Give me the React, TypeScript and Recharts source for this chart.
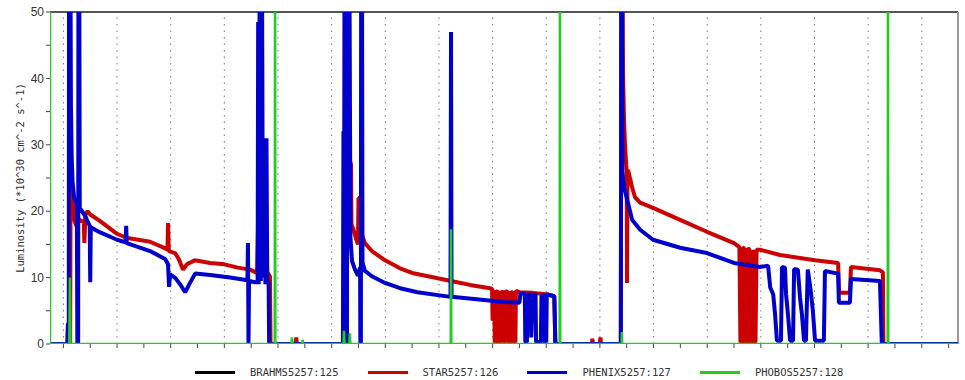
import React from 'react';
import { LineChart, Line, XAxis, YAxis, ReferenceLine } from 'recharts';

// Time axis runs in hours across the store; luminosity in 1e30 cm^-2 s^-1.
// Each pair is [hour, luminosity]. Values above 50 are spikes that run off the top.

const brahms: [number, number][] = [
  [-0.5, 0], [33.35, 0]
];

// STAR (red), three fills
const starFill1: [number, number][] = [
  [-0.5, 0], [0.15, 0], [0.17, 3.2], [0.19, 0], [0.25, 0], [0.27, 27], [0.3, 24], [0.35, 21],
  [0.42, 18.5], [0.48, 17.8], [0.55, 19], [0.62, 18.6], [0.76, 18.4], [0.78, 15.2], [0.82, 19.5],
  [0.9, 20], [1.0, 19.5], [1.37, 18.5], [2.0, 16.6], [2.34, 16.0], [3.23, 15.4], [3.8, 14.4],
  [3.88, 14.2], [3.9, 18.2], [3.93, 14.0], [4.16, 13.7], [4.3, 12.8], [4.46, 11.2], [4.6, 12.0],
  [4.9, 12.6], [5.47, 12.2], [6.0, 12.0], [6.5, 11.5], [6.96, 11.2], [7.22, 10.7], [7.26, 18.4],
  [7.3, 11], [7.4, 11.5], [7.55, 15.6], [7.6, 10.8], [7.7, 10.2], [7.72, 0],
  [8.66, 0], [8.68, 1], [8.7, 0]
];
const starFill2: [number, number][] = [
  [10.56, 0], [10.58, 44], [10.62, 44], [10.66, 28], [10.72, 27], [10.74, 18], [10.8, 17.4],
  [10.9, 16], [10.98, 15], [11.0, 22], [11.06, 22], [11.08, 18], [11.12, 16.5], [11.24, 15.2],
  [11.5, 14], [11.99, 12.6], [12.55, 11.4], [13.0, 10.7], [13.96, 9.9], [14.45, 9.5], [15.16, 8.9],
  [15.9, 8.4], [15.98, 8.3], [16.0, 3.5], [16.02, 7.9], [16.06, 8.1], [16.08, 0.3], [16.12, 0.3],
  [16.14, 7.8], [16.2, 8], [16.22, 0.3], [16.3, 0.3], [16.32, 7.9], [16.4, 7.8], [16.42, 0.3],
  [16.46, 0.3], [16.48, 8], [16.56, 7.8], [16.58, 0.3], [16.66, 0.3], [16.68, 7.9], [16.75, 7.7],
  [16.77, 0.3], [16.85, 0.3], [16.87, 8], [17.0, 7.8], [17.5, 7.7], [18.0, 7.5], [18.3, 7.2],
  [18.34, 0], [19.7, 0], [19.72, 0.8], [19.74, 0], [20.0, 0], [20.02, 1], [20.04, 0]
];
const starFill3: [number, number][] = [
  [20.78, 0], [20.8, 60], [20.84, 60], [20.86, 41], [20.9, 33.7], [20.94, 29.7], [20.98, 27],
  [21.0, 26], [21.01, 9.2], [21.03, 26], [21.05, 26.2], [21.2, 23.6], [21.31, 22.1], [21.5, 21.3],
  [21.98, 20.5], [22.99, 18.7], [23.99, 16.9], [25.0, 15.2], [25.2, 14.6], [25.24, 0.3],
  [25.3, 0.3], [25.32, 14.5], [25.38, 14.4], [25.4, 0.3], [25.5, 0.3], [25.52, 14.4], [25.56, 14.3],
  [25.58, 0.3], [25.68, 0.3], [25.7, 14.2], [25.74, 0.3], [25.8, 0.3], [25.84, 14.2], [25.97, 14.2],
  [26.72, 13.4], [28.02, 12.6], [28.88, 12.2], [28.92, 7.7], [29.32, 7.7], [29.36, 11.6],
  [30.44, 11.1], [30.55, 10.8], [30.57, 0], [33.35, 0]
];

// PHENIX (blue), three fills
const phenixFill1: [number, number][] = [
  [-0.5, 0], [0.15, 0], [0.17, 3], [0.19, 0], [0.2, 0], [0.21, 60], [0.26, 60], [0.28, 36],
  [0.31, 28], [0.34, 24.5], [0.4, 22], [0.5, 21], [0.52, 0], [0.55, 0], [0.56, 60], [0.59, 60],
  [0.61, 20.5], [0.81, 19.3], [0.92, 18.3], [0.98, 17.8], [1.0, 9.3], [1.02, 17.6], [1.18, 17.2],
  [1.37, 16.8], [2.0, 15.7], [2.32, 15.3], [2.34, 17.8], [2.36, 15.2], [3.23, 14.0], [3.79, 12.8],
  [3.9, 12.0], [3.94, 8.6], [3.98, 10.5], [4.16, 10.0], [4.35, 9.0], [4.54, 7.8], [4.72, 9.2],
  [4.91, 10.6], [5.47, 10.4], [6.21, 10.0], [6.86, 9.6], [6.88, 15.2], [6.9, 0], [6.92, 9.5],
  [7.15, 9.3], [7.24, 9.3], [7.26, 48.5], [7.28, 9], [7.32, 60], [7.36, 9.5], [7.4, 60],
  [7.44, 10], [7.5, 29.5], [7.53, 9], [7.57, 31], [7.6, 9], [7.65, 9.4], [7.67, 0]
];
const phenixFill2: [number, number][] = [
  [10.42, 0], [10.44, 32], [10.47, 32], [10.48, 60], [10.53, 60], [10.55, 0], [10.57, 0],
  [10.59, 60], [10.66, 60], [10.7, 16], [10.76, 12.5], [10.87, 11.2], [10.98, 10.3], [11.06, 11.5],
  [11.07, 0], [11.09, 0], [11.1, 60], [11.13, 60], [11.15, 12.3], [11.24, 11], [11.5, 10.2],
  [11.99, 9.2], [12.55, 8.4], [13.2, 7.8], [14.43, 7.1], [14.45, 47], [14.47, 7.1], [15.5, 6.7],
  [16.5, 6.3], [17.0, 6.2], [17.04, 7.6], [17.2, 7.6], [17.22, 0.3], [17.28, 0.3], [17.3, 7.5],
  [17.42, 7.4], [17.44, 1], [17.5, 7.3], [17.6, 7.6], [17.62, 0.3], [17.8, 0.3], [17.82, 7.2],
  [17.9, 7.5], [17.92, 0.3], [18.0, 0.3], [18.02, 7.5], [18.3, 7.2], [18.34, 0]
];
const phenixFill3: [number, number][] = [
  [20.78, 0], [20.8, 60], [20.83, 60], [20.84, 26], [20.9, 23.6], [21.05, 21.2], [21.2, 18.7],
  [21.5, 17.2], [21.98, 15.7], [22.99, 14.5], [23.99, 13.7], [25.0, 12.2], [25.97, 11.6],
  [26.27, 11.8], [26.35, 8.5], [26.46, 7.5], [26.53, 4.5], [26.6, 0.5], [26.75, 0.5], [26.79, 11.6],
  [26.9, 11.5], [26.94, 7.5], [27.01, 4.5], [27.09, 0.5], [27.2, 0.5], [27.24, 11.3], [27.38, 11.2],
  [27.46, 7], [27.53, 4.5], [27.61, 0.5], [27.68, 0.5], [27.75, 11.2], [27.86, 8], [27.94, 5],
  [28.02, 0.5], [28.35, 0.5], [28.39, 11], [28.88, 10.6], [28.91, 6.2], [29.32, 6.2], [29.36, 9.8],
  [30.44, 9.5], [30.51, 0], [33.35, 0]
];

// PHOBOS (green): flat at zero with a few off-scale spikes
const phobos: [number, number][] = [
  [-0.5, 60], [-0.5, 0], [0.22, 0], [0.24, 10], [0.26, 0], [7.88, 0], [7.89, 60], [7.9, 0],
  [8.5, 0], [8.52, 1], [8.54, 0], [8.9, 0], [8.92, 0.6], [8.94, 0], [10.44, 0], [10.46, 2],
  [10.48, 0], [10.66, 0], [10.68, 1.6], [10.7, 0], [14.44, 0], [14.45, 17.3], [14.46, 0],
  [18.5, 0], [18.51, 60], [18.52, 0], [20.81, 0], [20.82, 1.8], [20.83, 0], [30.73, 0],
  [30.74, 60], [30.75, 0], [33.35, 0]
];

const hourTicks = [0, 1, 2, 3, 4, 5, 6, 7, 8, 9, 10, 11, 12, 13, 14, 15, 16, 17, 18, 19, 20, 21, 22, 23, 24, 25, 26, 27, 28, 29, 30, 31, 32, 33];
const gridHours = [0, 2, 4, 6, 8, 10, 12, 14, 16, 18, 20, 22, 24, 26, 28, 30, 32];
const lumiTicks = [0, 5, 10, 15, 20, 25, 30, 35, 40, 45, 50];

const toPoints = (...parts: [number, number][][]) =>
  parts.flat().map(([t, v]) => ({ t, v }));

const series = [
  { name: 'BRAHMS5257:125', color: '#000000', data: toPoints(brahms), width: 2 },
  { name: 'STAR5257:126', color: '#cc0000', data: toPoints(starFill1, starFill2, starFill3), width: 4 },
  { name: 'PHENIX5257:127', color: '#0000cc', data: toPoints(phenixFill1, phenixFill2, phenixFill3), width: 4 },
  { name: 'PHOBOS5257:128', color: '#22cc22', data: toPoints(phobos), width: 2.5 }
];

const mono = '"DejaVu Sans Mono", monospace';

// Legend sits under the plot, outside the svg
const LegendRow = () => (
  <div
    style={{
      position: 'absolute',
      left: 195,
      top: 363,
      height: 18,
      display: 'flex',
      alignItems: 'center',
      fontFamily: mono,
      fontSize: 10.5,
      color: '#333',
      whiteSpace: 'nowrap'
    }}
  >
    {series.map((s) => (
      <div key={s.name} style={{ display: 'flex', alignItems: 'center', marginRight: 29 }}>
        <div style={{ width: 40, height: 3, background: s.color, marginRight: 15 }} />
        <span>{s.name}</span>
      </div>
    ))}
  </div>
);

export default function App() {
  return (
    <div style={{ position: 'absolute', left: 0, top: 0, width: 965, height: 380, background: '#fff' }}>
      <LineChart width={965} height={380} margin={{ top: 12, right: 7, bottom: 28, left: 0 }}>
        <XAxis
          dataKey="t"
          type="number"
          domain={[-0.5, 33.35]}
          ticks={hourTicks}
          allowDataOverflow
          tickFormatter={() => ''}
          axisLine={false}
          tickLine={{ stroke: '#444' }}
          tickSize={4}
          height={8}
        />
        <YAxis
          type="number"
          domain={[0, 50]}
          ticks={lumiTicks}
          allowDataOverflow
          width={50}
          axisLine={false}
          tickLine={{ stroke: '#444' }}
          tickSize={4}
          tickMargin={2}
          interval={0}
          tickFormatter={(v: number) => (v % 10 === 0 ? String(v) : '')}
          tick={{ fontFamily: '"Liberation Sans", Arial, sans-serif', fontSize: 12, fill: '#333' }}
          label={{
            value: 'Luminosity (*10^30 cm^-2 s^-1)',
            angle: -90,
            position: 'center',
            dx: -5,
            style: { fontFamily: mono, fontSize: 10.5, fill: '#333' }
          }}
        />
        {gridHours.map((h) => (
          <ReferenceLine key={h} x={h} stroke="#777" strokeDasharray="1.5 5" />
        ))}
        <ReferenceLine y={50} stroke="#555" strokeWidth={2} />
        <ReferenceLine x={33.35} stroke="#999" strokeWidth={2} />
        {series.map((s) => (
          <Line
            key={s.name}
            data={s.data}
            dataKey="v"
            name={s.name}
            type="linear"
            stroke={s.color}
            strokeWidth={s.width}
            strokeLinejoin="bevel"
            dot={false}
            activeDot={false}
            isAnimationActive={false}
          />
        ))}
      </LineChart>
      <LegendRow />
    </div>
  );
}
